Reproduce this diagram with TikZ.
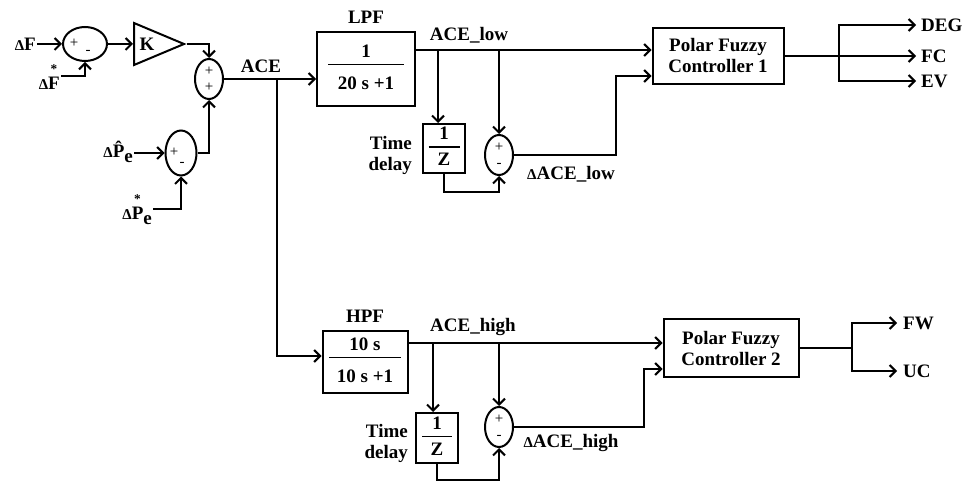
\documentclass[tikz,border=0pt]{standalone}
\usepackage{amsmath}
\usepackage{fontspec}
\setmainfont{Liberation Serif}
\usetikzlibrary{shapes.geometric,positioning,arrows.meta,calc}
\setlength{\arrayrulewidth}{1.6pt}
\newcommand{\dsym}{{\fontsize{15}{15}\selectfont Δ}}
\newcommand{\blockfrac}[4]{\begin{tabular}{@{}c@{}}\makebox[#1]{#2}\\\hline\rule{0pt}{#4}#3\end{tabular}}

\begin{document}
\begin{tikzpicture}[x=1pt, y=-1pt,
  every node/.style={font=\fontsize{19}{21}\selectfont\bfseries},
  blk/.style={draw, line width=2pt, inner sep=0, align=center},
  sum/.style={draw, ellipse, line width=2pt, inner sep=0, align=center,
    font=\fontsize{15}{16}\selectfont\mdseries},
  sgn/.style={font=\fontsize{15}{16}\selectfont\mdseries, inner sep=0},
  lbl/.style={inner sep=1pt},
  wire/.style={line width=2pt},
  sig/.style={wire, -{Straight Barb[length=6pt, width=12pt]}},
]
  \useasboundingbox (0,0) rectangle (966,481);

  % Input error summation
  \node[lbl, anchor=east] (dF) at (37,44) {\dsym F};
  \node[lbl, anchor=east] (dFs) at (61,76) {\dsym$\overset{\text{*}}{\text{F}}$};
  \node[sum, minimum width=44pt, minimum height=34pt,
    label={[sgn, xshift=-11pt, yshift=1pt]center:+},
    label={[sgn, xshift=3pt, yshift=-8pt]center:-}] (s1) at (85,44) {};
  \node[draw, wire, isosceles triangle, isosceles triangle stretches,
    minimum width=42pt, minimum height=50pt, inner sep=0, anchor=west] (k) at (133,44) {K};
  \node[sum, minimum width=28pt, minimum height=40pt] (s2) at (209,79) {+\\+};
  \node[lbl, anchor=east] (dPh) at (134,152) {\dsym\^{P}\raisebox{-5pt}{e}};
  \node[lbl, anchor=east] (dPs) at (153,209) {\dsym$\overset{\text{*}}{\text{P}}$\raisebox{-5pt}{e}};
  \node[sum, minimum width=31pt, minimum height=45pt,
    label={[sgn, xshift=-7pt, yshift=1pt]center:+},
    label={[sgn, xshift=1pt, yshift=-11pt]center:-}] (s3) at (181,153) {};

  \draw[sig] (dF) -- (s1);
  \draw[sig] (dFs.east) -| (s1.south);
  \draw[sig] (s1.east) -- (k.west);
  \draw[sig] (k.apex) -| (s2.north);
  \draw[sig] (dPh.east |- s3.west) -- (s3.west);
  \draw[sig] (dPs.east) -| (s3.south);
  \draw[sig] (s3.east) -| (s2.south);

  % Filters
  \node[blk, minimum width=98pt, minimum height=74pt] (lpf) at (366,69) {\blockfrac{76pt}{1}{20 s +1}{24pt}};
  \node[lbl, above=6pt of lpf] (lpfname) {LPF};
  \node[blk, minimum width=85pt, minimum height=62pt] (hpf) at (365,362) {\blockfrac{72pt}{10 s}{10 s +1}{24pt}};
  \node[lbl, above=6pt of hpf] (hpfname) {HPF};

  \node[lbl] (acelbl) at (261,66) {ACE};
  \coordinate (ace) at (277,79);
  \draw[sig] (s2.east) -- (s2.east -| lpf.west);
  \draw[sig] (ace) |- ([yshift=6pt]hpf.west);

  % Fuzzy controllers
  \node[blk, minimum width=131pt, minimum height=56pt] (fc1) at (718,56) {Polar Fuzzy\\Controller 1};
  \node[blk, minimum width=135pt, minimum height=58pt] (fc2) at (731,348) {Polar Fuzzy\\Controller 2};

  % Low frequency branch
  \coordinate (lo) at ([yshift=19pt]lpf.east);
  \coordinate (lo1) at (438,50);
  \coordinate (lo2) at (499,50);
  \node[lbl] (acelow) at (469,35) {ACE\_low};
  \node[blk, minimum width=42pt, minimum height=49pt] (d1) at (444,148.5) {\blockfrac{31pt}{1}{Z}{18pt}};
  \node[lbl, align=right, anchor=east] (td1) at (413,155) {Time\\delay};
  \node[sum, minimum width=28pt, minimum height=40pt] (sl) at (499,155) {+\\-};
  \node[lbl] (dacelow) at (571,174) {\dsym ACE\_low};

  \draw[sig] (lo) -- (lo -| fc1.west);
  \draw[sig] (lo1) -- (lo1 |- d1.north);
  \draw[sig] (lo2) -- (lo2 |- sl.north);
  \draw[sig] (d1.south) -- ++(0,18) -| (sl.south);
  \draw[sig] (sl.east) -- ++(102,0) |- ([yshift=-20pt]fc1.west);

  % High frequency branch
  \coordinate (hi) at ([yshift=19pt]hpf.east);
  \coordinate (hi1) at (433,343);
  \coordinate (hi2) at (499,343);
  \node[lbl] (acehigh) at (473,327) {ACE\_high};
  \node[blk, minimum width=42pt, minimum height=50pt] (d2) at (437,438) {\blockfrac{30pt}{1}{Z}{18pt}};
  \node[lbl, align=right, anchor=east] (td2) at (409,443) {Time\\delay};
  \node[sum, minimum width=28pt, minimum height=40pt] (sh) at (499,427) {+\\-};
  \node[lbl] (dacehigh) at (571,443) {\dsym ACE\_high};

  \draw[sig] (hi) -- (hi -| fc2.west);
  \draw[sig] (hi1) -- (hi1 |- d2.north);
  \draw[sig] (hi2) -- (hi2 |- sh.north);
  \draw[sig] (d2.south) -- ++(0,16) -| (sh.south);
  \draw[sig] (sh.east) -- ++(130,0) |- ([yshift=-21pt]fc2.west);

  % Outputs
  \coordinate (o1) at ([xshift=54pt]fc1.east);
  \coordinate (o2) at ([xshift=52pt]fc2.east);
  \draw[wire] (fc1.east) -- (o1);
  \draw[wire] (fc2.east) -- (o2);
  \foreach \n/\y/\t in {deg/25/DEG, fc/56/FC, ev/81/EV}{
    \node[lbl, inner xsep=5pt, anchor=west] (\n) at (916,\y) {\t};
    \draw[sig] (o1) |- (\n.west);
  }
  \foreach \n/\y/\t in {fw/323/FW, uc/371/UC}{
    \node[lbl, inner xsep=6pt, anchor=west] (\n) at (897,\y) {\t};
    \draw[sig] (o2) |- (\n.west);
  }
\end{tikzpicture}
\end{document}
